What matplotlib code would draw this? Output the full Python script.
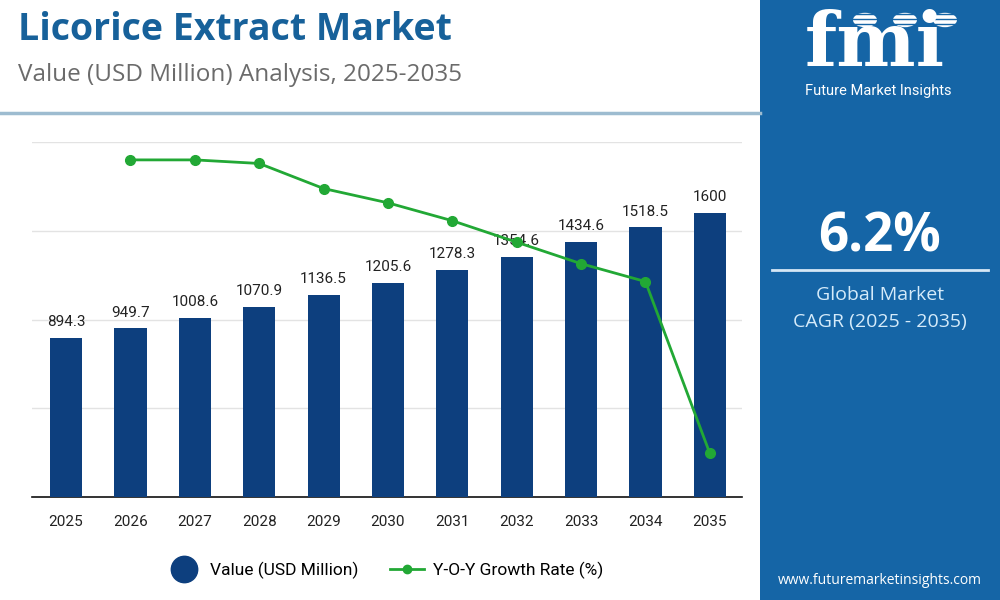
import matplotlib
matplotlib.use("Agg")
import matplotlib.pyplot as plt
from matplotlib.lines import Line2D
from matplotlib.patches import Rectangle, Circle

# data
years = ["2025", "2026", "2027", "2028", "2029", "2030", "2031", "2032", "2033", "2034", "2035"]
values = [894.3, 949.7, 1008.6, 1070.9, 1136.5, 1205.6, 1278.3, 1354.6, 1434.6, 1518.5, 1600]
growth_years = years[1:]
growth = [6.20, 6.20, 6.19, 6.12, 6.08, 6.03, 5.97, 5.91, 5.86, 5.38]

BAR = "#0d3f7e"
GREEN = "#22a835"
PANEL = "#1565a6"

plt.rcParams["font.family"] = ["Roboto", "DejaVu Sans"]

fig = plt.figure(figsize=(10, 6), dpi=100)
fig.patch.set_facecolor("white")

# right blue panel
fig.patches.append(Rectangle((0.76, 0), 0.24, 1, transform=fig.transFigure,
                             facecolor=PANEL, edgecolor="none", zorder=0))
# header separator
fig.add_artist(Line2D([0, 0.76], [1 - 113 / 600] * 2, color="#9dbcd0", lw=2.5))

# titles
fig.text(0.018, 1 - 30 / 600, "Licorice Extract Market", fontsize=27, fontweight="bold",
         color="#17619a", family=["Open Sans", "DejaVu Sans"], va="center")
fig.text(0.018, 1 - 75 / 600, "Value (USD Million) Analysis, 2025-2035", fontsize=17.5,
         color="#6b6b6b", family=["Open Sans", "DejaVu Sans"], va="center")

# main axes
ax = fig.add_axes([0.032, 1 - 497 / 600, 0.71, 355 / 600])
x = list(range(len(years)))
ax.bar(x, values, width=0.5, color=BAR, zorder=3)
for xi, v in zip(x, values):
    lab = f"{v:g}"
    ax.text(xi, v + 50, lab, ha="center", va="bottom", fontsize=11, color="#222222", zorder=5)
ax.set_ylim(0, 2000)
ax.set_xlim(-0.53, 10.5)
ax.set_yticks([500, 1000, 1500, 2000])
ax.set_yticklabels([])
ax.tick_params(axis="y", length=0)
ax.grid(axis="y", color="#e3e3e3", lw=1, zorder=0)
ax.set_xticks(x)
ax.set_xticklabels(years, fontsize=11, color="#222222")
ax.tick_params(axis="x", length=0, pad=13)
for s in ["top", "right", "left"]:
    ax.spines[s].set_visible(False)
ax.spines["bottom"].set_color("#111111")
ax.spines["bottom"].set_linewidth(1.2)

ax2 = ax.twinx()
ax2.plot(x[1:], growth, color=GREEN, lw=2, marker="o", markersize=7, zorder=6)
ax2.set_ylim(5.258, 6.25)
ax2.axis("off")

# legend
handles = [
    Line2D([], [], ls="none", marker="o", markersize=19, color=BAR),
    Line2D([], [], color=GREEN, lw=2, marker="o", markersize=6),
]
fig.legend(handles, ["Value (USD Million)", "Y-O-Y Growth Rate (%)"], loc="center",
           bbox_to_anchor=(0.385, 1 - 570 / 600), ncol=2, frameon=False, fontsize=12.5,
           handlelength=2, columnspacing=1.8, handletextpad=0.5)

# panel: logo
fig.text(0.875, 1 - 45 / 600, "fmi", fontsize=54, fontweight="bold", color="white",
         family=["DejaVu Serif"], ha="center", va="center")
for yy in range(14, 76, 5):
    fig.add_artist(Line2D([0.79, 0.96], [1 - yy / 600] * 2, color=PANEL, lw=1.0))
for cx in [0.865, 0.905, 0.945]:
    fig.patches.append(Circle((cx, 1 - 20 / 600), 0.012, transform=fig.transFigure,
                              facecolor="white", edgecolor="none"))
fig.text(0.878, 1 - 91 / 600, "Future Market Insights", fontsize=10.5, color="white",
         ha="center", va="center")

# panel: CAGR
fig.text(0.88, 1 - 237 / 600, "6.2%", fontsize=38, fontweight="bold", color="white",
         ha="center", va="center", family=["Open Sans", "DejaVu Sans"])
fig.add_artist(Line2D([0.772, 0.988], [1 - 270 / 600] * 2, color="#d5e7f5", lw=2))
fig.text(0.88, 1 - 295 / 600, "Global Market", fontsize=14, color="#d5ebfa",
         ha="center", va="center", family=["Open Sans", "DejaVu Sans"])
fig.text(0.88, 1 - 322 / 600, "CAGR (2025 - 2035)", fontsize=14, color="#d5ebfa",
         ha="center", va="center", family=["Open Sans", "DejaVu Sans"])
fig.text(0.88, 1 - 580 / 600, "www.futuremarketinsights.com", fontsize=10, color="white",
         ha="center", va="center", family=["Open Sans", "DejaVu Sans"])

fig.savefig("out.png", dpi=100, facecolor=fig.get_facecolor())
